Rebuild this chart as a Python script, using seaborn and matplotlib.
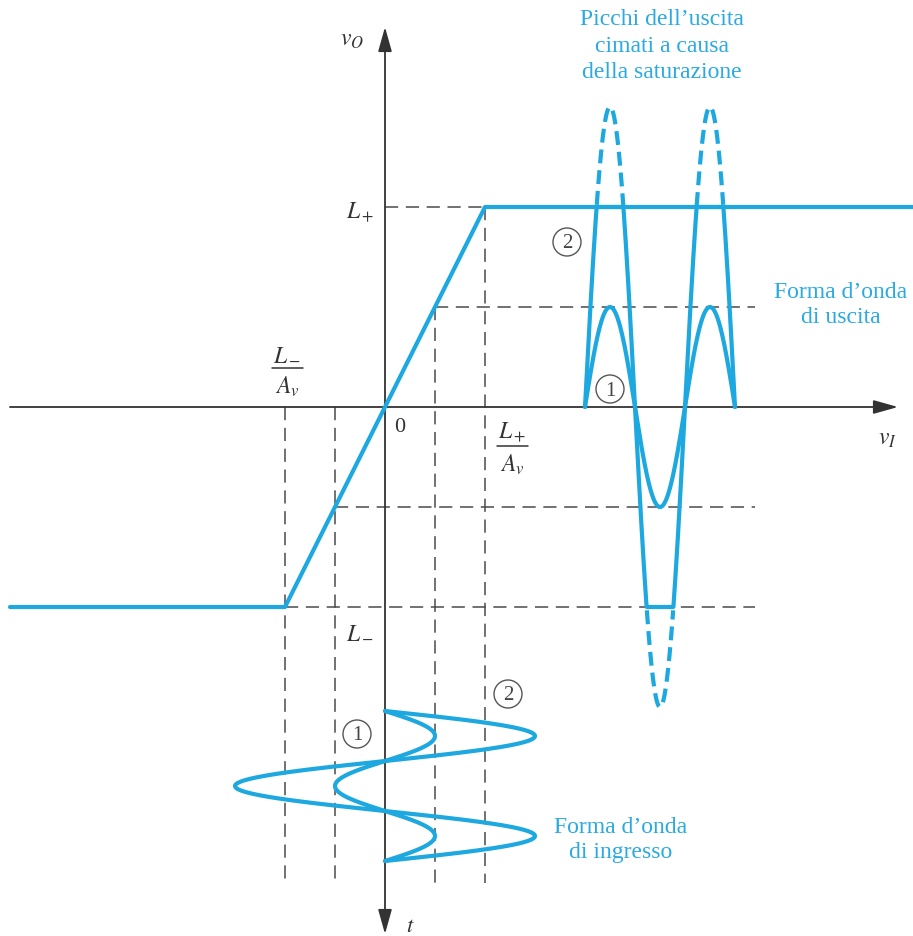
import numpy as np
import pandas as pd
import matplotlib
matplotlib.use("Agg")
import matplotlib.pyplot as plt
import seaborn as sns
from matplotlib.patches import Ellipse

# ---------------- data (normalised: L+ = 1, L+/Av = 1) ----------------
L_PLUS = 1.0
L_MINUS = -1.0
AV = 1.0
TRANSFER_VI = [-3.75, L_MINUS / AV, L_PLUS / AV, 5.28]
TRANSFER_VO = [L_MINUS, L_MINUS, L_PLUS, L_PLUS]
INPUT_AMPLITUDES = [0.5, 1.5]          # waves (1) and (2), in v_I units
WAVE_NAMES = ["1", "2"]
INPUT_T_START = -1.52                  # where the input time axis starts (v_O units)
INPUT_PERIOD = 0.5
OUTPUT_T_START = 2.0                   # where the output time axis starts (v_I units)
OUTPUT_PERIOD = 1.0
CYCLES = 1.5
GUIDE_RIGHT = 3.7
GUIDE_BOTTOM = -2.38

CYAN = "#1DA8E0"
TXT_CYAN = "#2AAAE0"
GREY = "#4a4a4a"

sns.set_theme(style="white")
plt.rcParams["mathtext.fontset"] = "stix"
plt.rcParams["font.family"] = ["Liberation Serif", "DejaVu Serif"]
plt.rcParams["lines.scale_dashes"] = False

fig = plt.figure(figsize=(9.13, 9.37), dpi=100)
ax = fig.add_axes([0, 0, 1, 1])
ax.set_xlim(-3.85, 5.28)
ax.set_ylim(-2.645, 2.04)
ax.axis("off")

gdash = dict(color=GREY, lw=1.1, linestyle=(0, (9.5, 5.5)), zorder=1)

# horizontal guides
ax.plot([0, L_PLUS / AV], [L_PLUS, L_PLUS], **gdash)
for lvl in [INPUT_AMPLITUDES[0] * AV, -INPUT_AMPLITUDES[0] * AV, L_MINUS]:
    ax.plot([lvl / AV, GUIDE_RIGHT], [lvl, lvl], **gdash)
# vertical guides
for v in [L_PLUS / AV, INPUT_AMPLITUDES[0], -INPUT_AMPLITUDES[0], L_MINUS / AV]:
    top = max(AV * v, 0)
    ax.plot([v, v], [top, GUIDE_BOTTOM], **gdash)

# axes with arrows
ax.annotate("", xy=(5.13, 0), xytext=(-3.75, 0),
            arrowprops=dict(arrowstyle="-|>,head_length=1.5,head_width=0.42",
                            lw=1.3, color="#333333", shrinkA=0, shrinkB=0,
                            mutation_scale=10), zorder=2)
ax.annotate("", xy=(0, 1.90), xytext=(0, -2.635),
            arrowprops=dict(arrowstyle="<|-|>,head_length=1.5,head_width=0.42",
                            lw=1.3, color="#333333", shrinkA=0, shrinkB=0,
                            mutation_scale=10), zorder=2)

# transfer characteristic
sns.lineplot(x=TRANSFER_VI, y=TRANSFER_VO, sort=False, estimator=None,
             color=CYAN, lw=3.0, ax=ax, zorder=5)

phase = np.linspace(0, CYCLES, 600)
for amp in INPUT_AMPLITUDES:
    # input waveform along vertical time axis
    vin = amp * np.sin(2 * np.pi * phase)
    tin = INPUT_T_START - phase * INPUT_PERIOD
    sns.lineplot(x=vin, y=tin, sort=False, estimator=None, color=CYAN,
                 lw=3.0, ax=ax, zorder=5)
    # output waveform along horizontal time axis
    vout = np.clip(AV * vin, L_MINUS, L_PLUS)
    tout = OUTPUT_T_START + phase * OUTPUT_PERIOD
    sns.lineplot(x=tout, y=vout, sort=False, estimator=None, color=CYAN,
                 lw=3.0, ax=ax, zorder=5)
    ideal = AV * vin
    over = np.abs(ideal) > L_PLUS
    if over.any():
        seg_id = np.cumsum(np.r_[0, np.diff(over.astype(int)) != 0])
        df = pd.DataFrame({"t": tout, "v": ideal, "seg": seg_id, "over": over})
        for _, g in df[df.over].groupby("seg"):
            sns.lineplot(x=g.t.values, y=g.v.values, sort=False, estimator=None,
                         color=CYAN, lw=3.0, linestyle=(0, (10, 5)), ax=ax, zorder=5)

# circled wave numbers
def circ(x, y, s):
    ax.add_patch(Ellipse((x, y), 0.28, 0.14, fc="white", ec="#555555", lw=1.0, zorder=6))
    ax.text(x, y - 0.005, s, ha="center", va="center", fontsize=15, color="#444444", zorder=7)

circ(1.82, 0.825, WAVE_NAMES[1])
circ(2.25, 0.09, WAVE_NAMES[0])
circ(-0.28, -1.635, WAVE_NAMES[0])
circ(1.23, -1.435, WAVE_NAMES[1])

# math labels
mk = dict(color="#333333", ha="center", va="center")
ax.text(-0.33, 1.84, r"$v_O$", fontsize=17, **mk)
ax.text(5.02, -0.16, r"$v_I$", fontsize=17, **mk)
ax.text(0.25, -2.6, r"$t$", fontsize=16, **mk)
ax.text(0.15, -0.095, "0", fontsize=16, **mk)
ax.text(-0.25, 0.98, r"$L_+$", fontsize=17, **mk)
ax.text(-0.25, -1.12, r"$L_-$", fontsize=17, **mk)


def frac(x, y, num, den):
    ax.text(x, y + 0.075, num, fontsize=17, **mk)
    ax.plot([x - 0.155, x + 0.155], [y, y], color="#333333", lw=1.1)
    ax.text(x, y - 0.09, den, fontsize=17, **mk)


frac(-0.98, 0.195, r"$L_-$", r"$A_v$")
frac(1.27, -0.195, r"$L_+$", r"$A_v$")

# annotations
tk = dict(color=TXT_CYAN, ha="center", va="center", fontsize=17)
ax.text(2.77, 1.81, "Picchi dell\u2019uscita\ncimati a causa\ndella saturazione",
        linespacing=1.32, **tk)
ax.text(4.56, 0.515, "Forma d\u2019onda\ndi uscita", linespacing=1.2, **tk)
ax.text(2.36, -2.16, "Forma d\u2019onda\ndi ingresso", linespacing=1.2, **tk)

fig.savefig("out.png", dpi=100)
